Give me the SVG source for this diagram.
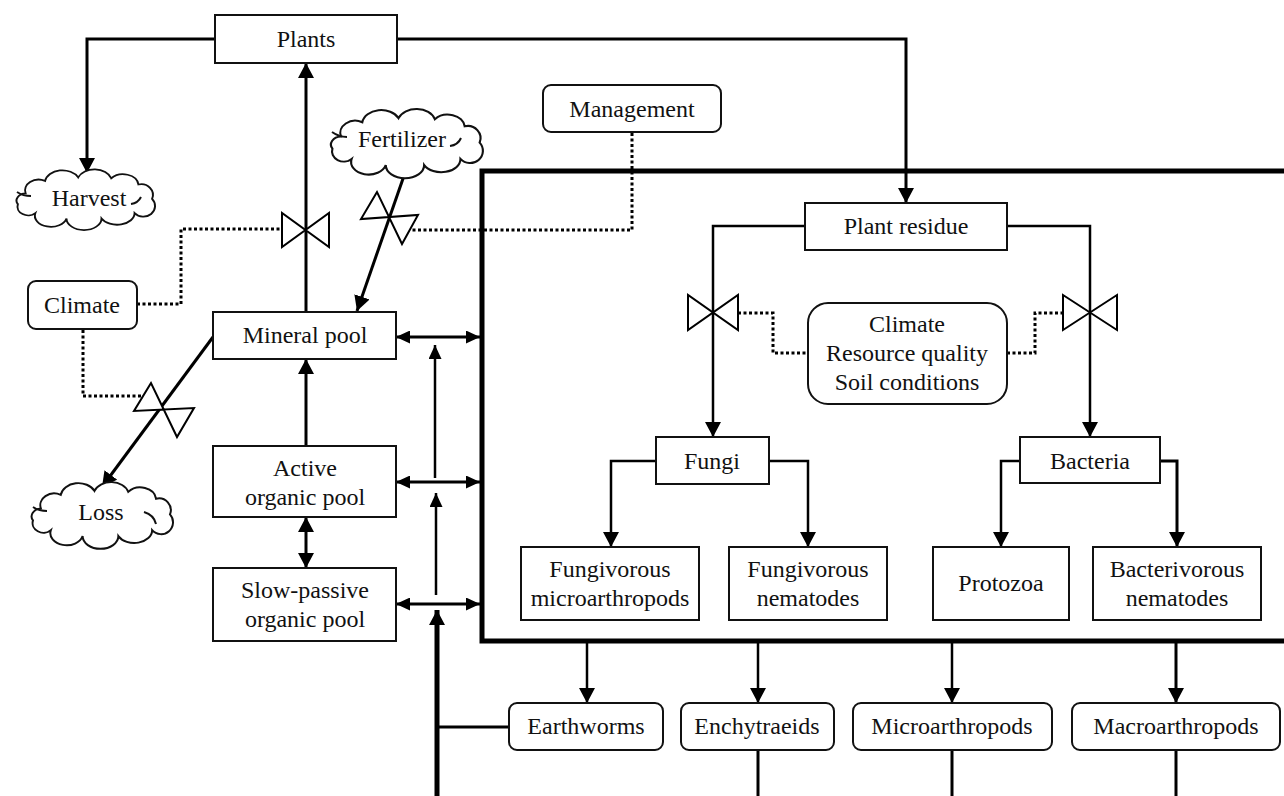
<svg xmlns="http://www.w3.org/2000/svg" width="1284" height="796" viewBox="0 0 1284 796">
<style>
text{font-family:"Liberation Serif","Times New Roman",serif;font-size:24px;fill:#111;text-anchor:middle}
.bx{fill:#fff;stroke:#111;stroke-width:2}
.ln{fill:none;stroke:#000;stroke-width:3}
.th{fill:none;stroke:#000;stroke-width:2.5}
.dt{fill:none;stroke:#000;stroke-width:3;stroke-dasharray:3 2.5}
.bt{fill:#fff;stroke:#000;stroke-width:2;stroke-linejoin:miter}
.cl{fill:#fff;stroke:#111;stroke-width:2;vector-effect:non-scaling-stroke}
.cu{fill:none;stroke:#111;stroke-width:2}
</style>
<defs>
<marker id="a" viewBox="0 0 15 16" refX="15" refY="8" markerWidth="15" markerHeight="16" orient="auto-start-reverse" markerUnits="userSpaceOnUse"><path d="M0,0 L15,8 L0,16 z" fill="#000"/></marker>
<marker id="s" viewBox="0 0 14 13" refX="14" refY="6.5" markerWidth="14" markerHeight="13" orient="auto-start-reverse" markerUnits="userSpaceOnUse"><path d="M0,0 L14,6.5 L0,13 z" fill="#000"/></marker>
<path id="cloud" d="M14,24 A14 12 0 0 1 34,10 A18 14 0 0 1 68,6 A18 14 0 0 1 102,7 A16 13 0 0 1 130,14 A12 12 0 0 1 144,30 A12 12 0 0 1 126,46 A18 13 0 0 1 92,52 A18 13 0 0 1 56,52 A16 12 0 0 1 24,46 A11 10 0 0 1 6,36 A10 8 0 0 1 14,24 Z"/>
</defs>

<g id="connectors">
<path class="ln" d="M215,39 H87 V173" marker-end="url(#a)"/>
<path class="ln" d="M397,39 H906 V203" marker-end="url(#a)"/>
<path class="ln" d="M306,312 V63" marker-end="url(#a)"/>
<path class="ln" d="M306,446 V359" marker-end="url(#a)"/>
<path class="ln" d="M306,517 V568" marker-start="url(#a)" marker-end="url(#a)"/>
<path class="ln" d="M406,170 L357,311" marker-end="url(#a)"/>
<path class="ln" d="M213,337 L102,487" marker-end="url(#a)"/>
<path class="ln" d="M396,337 H480" marker-start="url(#s)" marker-end="url(#s)"/>
<path class="ln" d="M396,482 H480" marker-start="url(#s)" marker-end="url(#s)"/>
<path class="ln" d="M396,604 H480" marker-start="url(#s)" marker-end="url(#s)"/>
<path class="th" d="M435,478 V345" marker-end="url(#s)"/>
<path class="th" d="M436,595 V493" marker-end="url(#s)"/>
<path fill="none" stroke="#000" stroke-width="5" d="M437,796 V610" marker-end="url(#a)"/>
<path class="ln" d="M437,727 H509"/>
<path class="dt" d="M632,133 V230 H410"/>
<path class="dt" d="M137,304 H181 V229 H282"/>
<path class="dt" d="M83,330 V396 H143"/>
<path class="th" d="M805,226 H713 V437" marker-end="url(#a)"/>
<path class="th" d="M1007,226 H1090 V437" marker-end="url(#a)"/>
<path class="dt" d="M738,313 H773 V353 H808"/>
<path class="dt" d="M1007,353 H1035 V313 H1063"/>
<path class="th" d="M656,461 H611 V547" marker-end="url(#a)"/>
<path class="th" d="M769,461 H808 V547" marker-end="url(#a)"/>
<path class="th" d="M1020,461 H1001 V547" marker-end="url(#a)"/>
<path class="ln" d="M1160,461 H1177 V547" marker-end="url(#a)"/>
<path class="th" d="M587,643 V703" marker-end="url(#a)"/>
<path class="th" d="M758,643 V703" marker-end="url(#a)"/>
<path class="th" d="M952,643 V703" marker-end="url(#a)"/>
<path class="ln" d="M1176,643 V703" marker-end="url(#a)"/>
<path class="ln" d="M758,750 V796"/>
<path class="ln" d="M952,750 V796"/>
<path class="ln" d="M1176,750 V796"/>
<polygon class="bt" points="282,213 282,247 329,213 329,247"/>
<polygon class="bt" points="377,192 361,219 418,215 402,244"/>
<polygon class="bt" points="151,383 134,411 194,408 177,437"/>
<polygon class="bt" points="688,295 688,330 738,295 738,330"/>
<polygon class="bt" points="1063,295 1063,330 1117,295 1117,330"/>
</g>

<g id="soil-box"><path fill="none" stroke="#000" stroke-width="5" d="M1290,171 H482 V641 H1290"/></g>

<g id="plants"><rect class="bx" x="215" y="15" width="182" height="48"/><text x="306" y="47">Plants</text></g>
<g id="harvest"><use href="#cloud" class="cl" transform="translate(12,172) scale(0.973,0.893)"/><path class="cu" d="M131,204 q7,-1 10,-7"/><path class="cu" d="M17,192 q6,4 14,4"/><text x="89" y="206">Harvest</text></g>
<g id="fertilizer"><use href="#cloud" class="cl" transform="translate(326,112) scale(1.067,1.02)"/><path class="cu" d="M450,146 q8,-1 11,-8"/><path class="cu" d="M332,132 q7,5 15,5"/><text x="402" y="147">Fertilizer</text></g>
<g id="loss"><use href="#cloud" class="cl" transform="translate(27,485) scale(0.993,0.982)"/><path class="cu" d="M144,512 q10,3 12,12"/><path class="cu" d="M33,507 q6,4 14,4"/><text x="101" y="520">Loss</text></g>
<g id="management"><rect class="bx" x="543" y="85" width="178" height="47" rx="8"/><text x="632" y="117">Management</text></g>
<g id="climate"><rect class="bx" x="28" y="281" width="109" height="48" rx="8"/><text x="82" y="313">Climate</text></g>
<g id="mineral-pool"><rect class="bx" x="213" y="312" width="183" height="47"/><text x="305" y="343">Mineral pool</text></g>
<g id="active-pool"><rect class="bx" x="213" y="446" width="183" height="71"/><text x="305" y="476">Active</text><text x="305" y="505">organic pool</text></g>
<g id="slow-pool"><rect class="bx" x="213" y="568" width="183" height="73"/><text x="305" y="598">Slow-passive</text><text x="305" y="627">organic pool</text></g>
<g id="plant-residue"><rect class="bx" x="805" y="203" width="202" height="47"/><text x="906" y="234">Plant residue</text></g>
<g id="controls"><rect class="bx" x="808" y="303" width="199" height="101" rx="20"/><text x="907" y="332">Climate</text><text x="907" y="361">Resource quality</text><text x="907" y="390">Soil conditions</text></g>
<g id="fungi"><rect class="bx" x="656" y="437" width="113" height="47"/><text x="712" y="469">Fungi</text></g>
<g id="bacteria"><rect class="bx" x="1020" y="437" width="140" height="46"/><text x="1090" y="469">Bacteria</text></g>
<g id="fung-micro"><rect class="bx" x="521" y="547" width="178" height="73"/><text x="610" y="577">Fungivorous</text><text x="610" y="606">microarthropods</text></g>
<g id="fung-nem"><rect class="bx" x="729" y="547" width="158" height="73"/><text x="808" y="577">Fungivorous</text><text x="808" y="606">nematodes</text></g>
<g id="protozoa"><rect class="bx" x="933" y="547" width="136" height="73"/><text x="1001" y="591">Protozoa</text></g>
<g id="bact-nem"><rect class="bx" x="1093" y="547" width="168" height="73"/><text x="1177" y="577">Bacterivorous</text><text x="1177" y="606">nematodes</text></g>
<g id="earthworms"><rect class="bx" x="509" y="703" width="154" height="47" rx="8"/><text x="586" y="734">Earthworms</text></g>
<g id="enchytraeids"><rect class="bx" x="681" y="703" width="153" height="47" rx="8"/><text x="757" y="734">Enchytraeids</text></g>
<g id="microarthropods"><rect class="bx" x="853" y="703" width="199" height="47" rx="8"/><text x="952" y="734">Microarthropods</text></g>
<g id="macroarthropods"><rect class="bx" x="1072" y="703" width="208" height="47" rx="8"/><text x="1176" y="734">Macroarthropods</text></g>
</svg>
